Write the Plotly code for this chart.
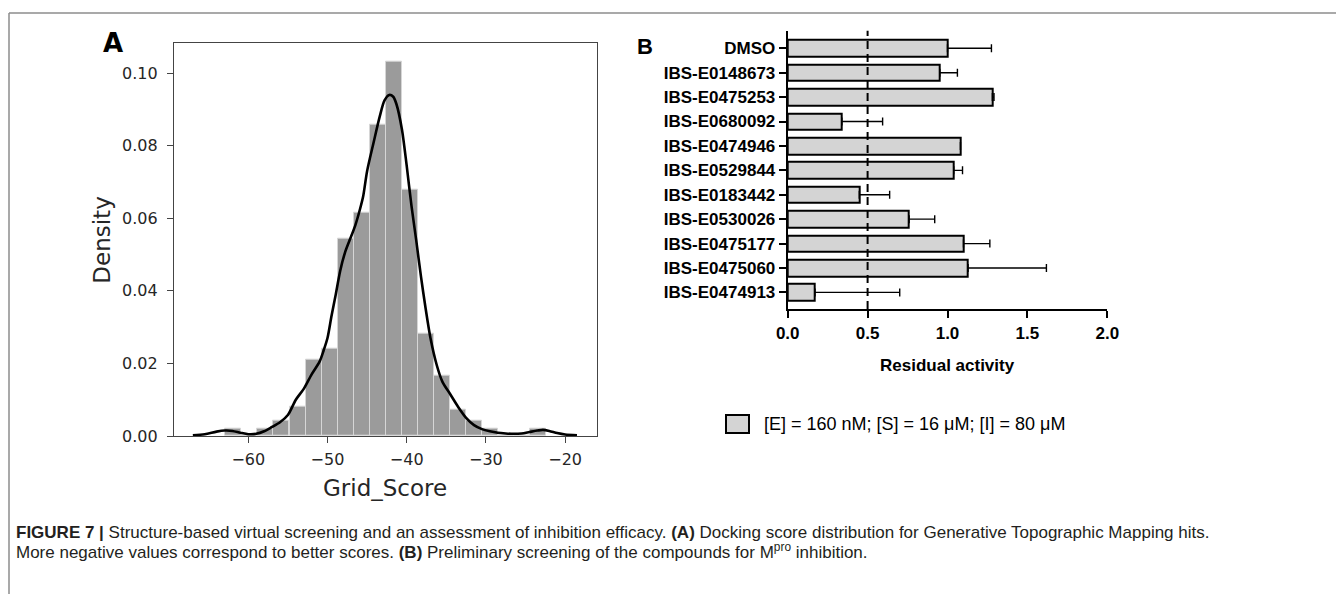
import plotly.graph_objects as go

W, H = 1344, 594
OFF = 8  # page body margin in the browser

# ---------------- Panel A data (histogram + KDE) ----------------
bin_centers = [-61.87, -59.85, -57.83, -55.81, -53.78, -51.76, -49.74, -47.72, -45.70, -43.68,
               -41.65, -39.63, -37.61, -35.59, -33.57, -31.55, -29.52, -27.50, -25.48, -23.46]
bin_density = [0.0020, 0.0, 0.0020, 0.0041, 0.0082, 0.0209, 0.0240, 0.0543, 0.0616, 0.0857,
               0.1033, 0.0678, 0.0281, 0.0166, 0.0072, 0.0041, 0.0020, 0.0, 0.0, 0.0021]

kde_x = [-67.0, -65.5, -64.0, -63.0, -62.0, -61.0, -60.0, -59.0, -58.0, -57.0, -56.0, -55.0,
         -54.0, -53.0, -52.0, -51.0, -50.5, -50.0, -49.5, -49.0, -48.4, -47.8, -47.2, -46.5,
         -45.9, -45.5, -45.0, -44.2, -43.4, -42.8, -42.2, -41.7, -41.3, -40.6, -40.0, -39.4,
         -38.8, -38.2, -37.6, -37.0, -36.2, -35.5, -34.5, -33.5, -32.5, -31.5, -30.5, -29.5,
         -28.5, -27.5, -26.5, -25.5, -24.5, -23.5, -22.8, -22.0, -21.0, -20.0, -18.5]
kde_y = [0.0002, 0.0005, 0.0012, 0.0015, 0.0014, 0.0009, 0.0005, 0.0006, 0.0013, 0.0025, 0.0038, 0.0058,
         0.0100, 0.0130, 0.0170, 0.0205, 0.0235, 0.0270, 0.0330, 0.0385, 0.0455, 0.0505, 0.0540, 0.0580,
         0.0625, 0.0660, 0.0730, 0.0807, 0.0881, 0.0925, 0.0940, 0.0935, 0.0915, 0.0845, 0.0745, 0.0635,
         0.0540, 0.0440, 0.0350, 0.0270, 0.0195, 0.0150, 0.0115, 0.0080, 0.0050, 0.0030, 0.0019, 0.0013,
         0.0009, 0.0007, 0.0006, 0.0007, 0.0011, 0.0015, 0.0017, 0.0014, 0.0008, 0.0004, 0.0002]

a_xticks = [-60, -50, -40, -30, -20]
a_yticks = [0.00, 0.02, 0.04, 0.06, 0.08, 0.10]

# ---------------- Panel B data (residual activity) ----------------
compounds = ["DMSO", "IBS-E0148673", "IBS-E0475253", "IBS-E0680092", "IBS-E0474946",
             "IBS-E0529844", "IBS-E0183442", "IBS-E0530026", "IBS-E0475177", "IBS-E0475060",
             "IBS-E0474913"]
residual = [1.00, 0.952, 1.281, 0.339, 1.081, 1.039, 0.448, 0.760, 1.100, 1.129, 0.171]
err_upper = [0.275, 0.110, 0.010, 0.255, 0.0, 0.055, 0.190, 0.160, 0.165, 0.490, 0.530]
b_xticks = [0.0, 0.5, 1.0, 1.5, 2.0]

legend_text = "[E] = 160 nM; [S] = 16 \u03bcM; [I] = 80 \u03bcM"
caption_1 = ("<b>FIGURE 7 |</b> Structure-based virtual screening and an assessment of inhibition efficacy. "
             "<b>(A)</b> Docking score distribution for Generative Topographic Mapping hits.")
caption_2 = ("More negative values correspond to better scores. <b>(B)</b> Preliminary screening of the "
             "compounds for M<sup>pro</sup> inhibition.")

# ---------------- helpers (screen pixel -> paper fraction) ----------------
def px(x):
    return (x - OFF) / W

def py(y):
    return 1 - (y - OFF) / H

DJ = "DejaVu Sans"
ARIAL = "Liberation Sans, Arial, Helvetica, sans-serif"

fig = go.Figure()

fig.add_trace(go.Bar(
    x=bin_centers, y=bin_density, width=2.02,
    marker=dict(color="#9b9b9b", line=dict(color="#d6d6d6", width=1)),
    xaxis="x", yaxis="y", showlegend=False, hoverinfo="skip"))

fig.add_trace(go.Scatter(
    x=kde_x, y=kde_y, mode="lines", line=dict(color="black", width=2.6, shape="spline", smoothing=0.8),
    xaxis="x", yaxis="y", showlegend=False, hoverinfo="skip"))

fig.add_trace(go.Bar(
    y=compounds, x=residual, orientation="h", width=0.68,
    marker=dict(color="#d4d4d4", line=dict(color="black", width=2)),
    error_x=dict(type="data", symmetric=False, array=err_upper, arrayminus=[0] * len(err_upper),
                 color="black", thickness=1.4, width=4),
    xaxis="x2", yaxis="y2", showlegend=False, name=legend_text))

a_dom_x = [px(174), px(596.7)]
a_dom_y = [py(436), py(42.7)]
b_dom_x = [px(787.7), px(1107.3)]
b_dom_y = [py(309), py(30.7)]

fig.update_layout(
    width=W, height=H, margin=dict(l=0, r=0, t=0, b=0, pad=0, autoexpand=False),
    paper_bgcolor="white", plot_bgcolor="white", bargap=0,
    xaxis=dict(domain=a_dom_x, anchor="y", range=[-69.38, -16.01], tickvals=a_xticks,
               showline=True, mirror=True, linecolor="#444", linewidth=1.2,
               ticks="outside", ticklen=6, tickwidth=1.2, tickcolor="#444",
               showgrid=False, zeroline=False, ticklabelstandoff=3, automargin=False,
               tickfont=dict(family=DJ, size=16, color="#262626")),
    yaxis=dict(domain=a_dom_y, anchor="x", range=[0, 0.1084], tickvals=a_yticks, tickformat=".2f",
               showline=True, mirror=True, linecolor="#444", linewidth=1.2,
               ticks="outside", ticklen=6, tickwidth=1.2, tickcolor="#444",
               showgrid=False, zeroline=False, ticklabelstandoff=6, automargin=False,
               tickfont=dict(family=DJ, size=16, color="#262626")),
    xaxis2=dict(domain=b_dom_x, anchor="y2", range=[0, 2], tickvals=b_xticks, tickformat=".1f",
                showline=True, linecolor="black", linewidth=2,
                ticks="outside", ticklen=7, tickwidth=2, tickcolor="black",
                showgrid=False, zeroline=False, automargin=False, ticklabelstandoff=1,
                tickfont=dict(family=ARIAL, size=17, color="black", weight="bold")),
    yaxis2=dict(domain=b_dom_y, anchor="x2", type="category", categoryorder="array",
                categoryarray=compounds, range=[10.68, -0.72],
                showline=True, linecolor="black", linewidth=2,
                ticks="outside", ticklen=7, tickwidth=2, tickcolor="black",
                showgrid=False, zeroline=False, automargin=False, ticklabelstandoff=0,
                tickfont=dict(family=ARIAL, size=17, color="black", weight="bold")),
)

shapes = [
    # figure frame
    dict(type="line", xref="paper", yref="paper", x0=px(9), x1=1, y0=py(13), y1=py(13),
         line=dict(color="#8c8c8c", width=1.5)),
    dict(type="line", xref="paper", yref="paper", x0=px(9), x1=px(9), y0=py(13), y1=0,
         line=dict(color="#8c8c8c", width=1.5)),
    # threshold line at 0.5
    dict(type="line", xref="x2", yref="y2 domain", x0=0.5, x1=0.5, y0=0, y1=1, layer="above",
         line=dict(color="black", width=2, dash="8px,5px")),
    # legend swatch
    dict(type="rect", xref="paper", yref="paper", x0=px(726), x1=px(749), y0=py(433), y1=py(415),
         fillcolor="#d4d4d4", line=dict(color="black", width=2)),
]
fig.update_layout(shapes=shapes)

ann = [
    dict(text="<b>A</b>", x=px(113), y=py(43), font=dict(family=DJ, size=26, color="black")),
    dict(text="Density", x=px(101.7), y=py(240), textangle=-90, font=dict(family=DJ, size=23, color="#262626")),
    dict(text="Grid_Score", x=px(385.3), y=py(488), font=dict(family=DJ, size=23, color="#262626")),
    dict(text="<b>B</b>", x=px(645), y=py(47), font=dict(family=ARIAL, size=22, color="black")),
    dict(text="<b>Residual activity</b>", x=px(947), y=py(365), font=dict(family=ARIAL, size=17, color="black")),
    dict(text=legend_text, x=px(762), y=py(424), xanchor="left", font=dict(family=ARIAL, size=18, color="black")),
    dict(text=caption_1, x=px(14), y=py(532), xanchor="left", font=dict(family=ARIAL, size=17, color="#231f20")),
    dict(text=caption_2, x=px(14), y=py(551), xanchor="left", font=dict(family=ARIAL, size=17, color="#231f20")),
]
for a in ann:
    a.setdefault("xanchor", "center")
    a.update(xref="paper", yref="paper", yanchor="middle", showarrow=False)
fig.update_layout(annotations=ann)

fig.write_html("out.html")
